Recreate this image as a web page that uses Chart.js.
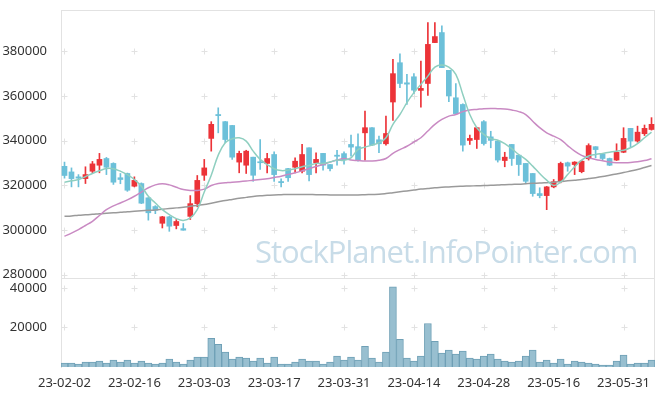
<!DOCTYPE html>
<html><head><meta charset="utf-8">
<script src="https://cdn.jsdelivr.net/npm/chart.js@4/dist/chart.umd.min.js"></script>
<style>
html,body{margin:0;padding:0;background:#fff;}
#wrap{position:relative;width:665px;height:396px;}
#wm{position:absolute;left:255px;top:236px;font-family:'Open Sans';font-size:31px;line-height:1;letter-spacing:-1px;color:rgb(200,220,232);white-space:nowrap;pointer-events:none;}
</style></head><body>
<div id="wrap"><canvas id="c" width="665" height="396"></canvas><div id="wm">StockPlanet.InfoPointer.com</div></div>
<script>
const dates = ['23-02-02','23-02-03','23-02-06','23-02-07','23-02-08','23-02-09','23-02-10','23-02-13','23-02-14','23-02-15',
'23-02-16','23-02-17','23-02-20','23-02-21','23-02-22','23-02-23','23-02-24','23-02-27','23-02-28','23-03-02',
'23-03-03','23-03-06','23-03-07','23-03-08','23-03-09','23-03-10','23-03-13','23-03-14','23-03-15','23-03-16',
'23-03-17','23-03-20','23-03-21','23-03-22','23-03-23','23-03-24','23-03-27','23-03-28','23-03-29','23-03-30',
'23-03-31','23-04-03','23-04-04','23-04-05','23-04-06','23-04-07','23-04-10','23-04-11','23-04-12','23-04-13',
'23-04-14','23-04-17','23-04-18','23-04-19','23-04-20','23-04-21','23-04-24','23-04-25','23-04-26','23-04-27',
'23-04-28','23-05-02','23-05-03','23-05-04','23-05-08','23-05-09','23-05-10','23-05-11','23-05-12','23-05-15',
'23-05-16','23-05-17','23-05-18','23-05-19','23-05-22','23-05-23','23-05-24','23-05-25','23-05-26','23-05-30',
'23-05-31','23-06-01','23-06-02','23-06-05','23-06-07'];

const openP = [328500,326000,323800,323000,326300,329000,332000,329800,323400,325300,
319600,320800,314400,310500,303000,305900,302000,300600,306100,311800,
324500,341000,351700,348500,346800,330400,329000,332600,330400,329800,
333800,321700,327500,328100,326300,336800,330100,334300,329300,333500,
334200,338300,337300,343500,345800,340400,338600,357300,374900,365900,
368600,362500,365600,383900,388400,371500,359200,356200,340100,340500,
348500,341700,339800,331100,338300,333500,329800,325300,316300,315400,
319300,321600,330100,329300,326100,331900,337300,334100,332000,331300,
334800,345500,339800,343100,345000];
const highP = [330400,327800,324800,328300,330700,334300,332500,330100,325300,325500,
323800,321100,314500,310900,306100,306100,304700,302900,315400,324400,
331600,348500,354700,348600,346800,335300,335700,332600,340500,334300,
335000,322900,327600,332300,338300,336800,334600,334300,329300,335700,
335000,342500,343100,353200,345800,342000,351000,376400,378900,369700,
370000,375600,392900,392900,391400,371500,365600,356500,342500,346000,
349000,344200,340200,334800,338300,333600,329800,325300,318900,319500,
322600,330400,330400,330600,331200,338600,337300,334300,332200,338600,
345800,345500,346500,347000,350300];
const lowP = [323200,319300,319300,320800,325600,325600,324800,320400,320700,317300,
319300,311800,304400,307300,300900,299400,300500,299900,304700,310400,
322200,335300,343500,339000,331600,325600,325300,321800,327100,325600,
321800,319300,321800,325600,325600,322000,325600,326800,326500,329000,
329500,333000,330800,331300,337800,334600,338000,349100,363700,356200,
361000,355000,360300,383900,372700,357500,351700,335300,338300,336500,
338000,336800,330400,328300,328900,324400,320700,315100,314400,309100,
318900,321100,326300,324800,325600,331300,332300,331300,328800,331100,
334600,337200,339300,342300,344700];
const closeP = [324400,323000,323200,324800,329600,331600,328100,321400,322600,317800,
322200,312000,307700,308800,305900,301700,303800,299900,311800,322200,
327800,347300,351200,340500,332600,334300,335300,324500,330100,332000,
324800,321200,323400,330800,333800,324800,331600,329000,327500,333000,
331500,337100,331300,345800,338000,338600,343200,370000,365600,365300,
362600,363400,383100,386600,372700,360000,352100,338000,341000,345800,
338700,340100,331300,332600,332000,329300,321800,316300,315400,319300,
321600,329800,328600,330400,330800,337800,336000,332000,329000,334800,
341000,339800,343800,345500,347300];

const ma5 = [321400,322000,322600,323900,325300,326500,327500,327400,326300,324800,
322600,319600,315100,312100,309100,306900,305100,304300,305400,309100,
317000,324500,333500,339100,340800,341300,339800,335300,331600,329300,
327400,326600,326800,327400,328300,328900,329800,329800,330400,331300,
331200,332300,336000,337100,338000,339100,341300,347300,351700,357000,
361500,365200,368900,372900,373900,372900,369700,360700,351700,345800,
342800,340900,340200,338700,336400,333800,331600,328600,325300,322300,
319900,321400,324800,328300,331300,333100,333800,334300,334800,335300,
335700,336800,338700,341300,343800];
const ma20 = [297200,298600,300200,302000,303900,306500,309100,310800,312100,313500,
315100,317000,318900,320200,320700,320200,319100,318100,317700,317700,
318300,319900,320800,321100,321400,321600,321900,322300,322600,322900,
323500,324100,324900,325600,326500,327500,328400,329300,330400,331300,
332000,331300,331100,330900,330900,331200,332000,334300,336000,337500,
339400,341300,344300,347300,349500,351000,351700,353000,353700,354000,
354300,354400,354300,354200,353700,353000,351700,348700,345800,343500,
342000,340500,337800,335300,333400,332300,331600,331000,330400,330100,
330100,330200,330500,331100,331900];
const ma60 = [306100,306300,306600,306800,307000,307300,307500,307700,307900,308200,
308400,308600,308800,309000,309300,309600,309900,310200,310600,311000,
311400,312000,312600,313200,313700,314200,314600,315000,315300,315500,
315700,315800,315900,315900,315900,315900,315800,315800,315700,315700,
315700,315700,315700,315800,315900,316000,316300,316700,317100,317500,
317900,318300,318600,318900,319100,319300,319500,319600,319700,319800,
319900,320000,320100,320300,320400,320500,320700,320900,321000,321200,
321400,321700,322000,322300,322600,323000,323400,323900,324500,325100,
325700,326400,327100,328000,328900];

const volume = [2000,2000,1500,2500,2500,3000,2000,3500,2500,3500,
2000,3000,2000,1500,2000,4000,2500,1500,3500,5000,
5000,14500,11500,7500,4000,5000,4500,3000,4500,2000,
5000,1500,1500,2500,4000,3000,3000,1500,2500,5500,
3500,5000,3500,10500,4500,2500,7500,40500,14000,4500,
3000,5500,22000,13000,7000,8500,6500,8000,4500,4000,
5500,6500,4000,3000,2500,3000,5500,8500,2500,3500,
2000,4000,1500,3000,2500,2000,1500,1000,1000,3000,
6000,1500,2000,2000,3500];

const priceTicks = [280000,300000,320000,340000,360000,380000];
const volumeTicks = [0,20000,40000];

const UP = '#ec3338', DOWN = '#6cc0d9';
const GRID = '#e2e2e2';
const candleColor = ctx => (closeP[ctx.dataIndex] >= openP[ctx.dataIndex] ? UP : DOWN);
const FONT = {family: "'Noto Sans', sans-serif", size: 13};

const decor = {
  id: 'decor',
  beforeDatasetsDraw(chart) {
    const {ctx, chartArea} = chart;
    const x = chart.scales.x, y = chart.scales.y, yv = chart.scales.yv;
    ctx.save();
    ctx.strokeStyle = GRID;
    ctx.lineWidth = 1;
    ctx.beginPath();
    ctx.moveTo(chartArea.left, Math.round(chartArea.top) + 0.5);
    ctx.lineTo(chartArea.right, Math.round(chartArea.top) + 0.5);
    ctx.moveTo(Math.round(chartArea.right) - 0.5, chartArea.top);
    ctx.lineTo(Math.round(chartArea.right) - 0.5, chartArea.bottom);
    ctx.moveTo(chartArea.left, Math.round(y.bottom) + 0.5);
    ctx.lineTo(chartArea.right, Math.round(y.bottom) + 0.5);
    ctx.stroke();
    const ys = priceTicks.map(v => y.getPixelForValue(v))
      .concat(volumeTicks.filter(v => v > 0).map(v => yv.getPixelForValue(v)));
    ctx.beginPath();
    for (let i = 0; i < dates.length; i += 10) {
      const px = Math.round(x.getPixelForValue(i)) + 0.5;
      for (const yy of ys) {
        const py = Math.round(yy) + 0.5;
        ctx.moveTo(px - 3, py); ctx.lineTo(px + 3, py);
        ctx.moveTo(px, py - 3); ctx.lineTo(px, py + 3);
      }
    }
    ctx.stroke();
    ctx.restore();
  }
};

const fitY = s => { s.width = 61; s.paddingTop = 0; s.paddingBottom = 0; };

new Chart(document.getElementById('c'), {
  type: 'bar',
  data: {
    labels: dates,
    datasets: [
      {type: 'line', label: 'MA5', data: ma5, yAxisID: 'y', borderColor: '#8fcfc0', borderWidth: 1.5, pointRadius: 0, tension: 0.4, order: 0},
      {type: 'line', label: 'MA20', data: ma20, yAxisID: 'y', borderColor: '#c98ac3', borderWidth: 1.5, pointRadius: 0, tension: 0.4, order: 0},
      {type: 'line', label: 'MA60', data: ma60, yAxisID: 'y', borderColor: '#9a9a9a', borderWidth: 1.5, pointRadius: 0, tension: 0.4, order: 0},
      {label: 'body', data: openP.map((o, i) => [o, closeP[i]]), yAxisID: 'y', backgroundColor: candleColor, barThickness: 5, minBarLength: 1, grouped: false, order: 1},
      {label: 'wick', data: lowP.map((l, i) => [l, highP[i]]), yAxisID: 'y', backgroundColor: candleColor, barThickness: 1, grouped: false, order: 2},
      {label: 'volume', data: volume, yAxisID: 'yv', backgroundColor: '#98bfd0', borderColor: '#6fa0b6', borderWidth: 1, barPercentage: 1, categoryPercentage: 1, grouped: false, order: 3}
    ]
  },
  options: {
    responsive: false,
    animation: false,
    events: [],
    layout: {padding: {top: 10, right: 10, left: 0, bottom: 0}},
    plugins: {legend: {display: false}, tooltip: {enabled: false}},
    scales: {
      x: {
        type: 'category', offset: true,
        grid: {display: false}, border: {display: false},
        ticks: {autoSkip: false, maxRotation: 0, minRotation: 0, color: '#333', font: FONT, padding: 0,
          callback: (v, i) => (i % 10 === 0 ? dates[i] : null)},
        afterFit: s => { s.height = 29; }
      },
      y: {
        position: 'left', stack: 'main', stackWeight: 268, weight: 2,
        min: 278500, max: 398500,
        afterBuildTicks: s => { s.ticks = priceTicks.map(v => ({value: v})); },
        grid: {display: false}, border: {display: true, color: GRID},
        ticks: {color: '#333', font: FONT, padding: 6, callback: v => String(v)},
        afterFit: fitY
      },
      yv: {
        position: 'left', stack: 'main', stackWeight: 89, weight: 1,
        min: 0, max: 45000,
        afterBuildTicks: s => { s.ticks = volumeTicks.map(v => ({value: v})); },
        grid: {display: false}, border: {display: true, color: GRID},
        ticks: {color: '#333', font: FONT, padding: 6, callback: v => (v === 0 ? '' : String(v))},
        afterFit: fitY
      }
    }
  },
  plugins: [decor]
});
</script>
</body></html>
